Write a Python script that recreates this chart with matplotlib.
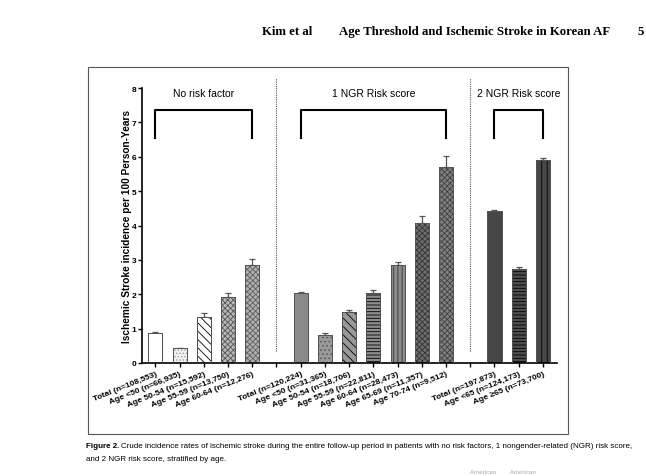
import matplotlib
matplotlib.use("Agg")
from matplotlib import pyplot as plt
from matplotlib.patches import Rectangle

plt.rcParams['font.family'] = ['Liberation Sans', 'DejaVu Sans']
plt.rcParams['hatch.linewidth'] = 0.6

# group titles
groups = ['No risk factor', '1 NGR Risk score', '2 NGR Risk score']

# no risk factor
labels_none = ['Total (n=108,553)', 'Age <50 (n=66,935)', 'Age 50-54 (n=15,592)',
               'Age 55-59 (n=13,750)', 'Age 60-64 (n=12,276)']
rate_none = [0.88, 0.43, 1.35, 1.93, 2.86]
err_none = [0.02, 0.02, 0.10, 0.12, 0.16]

# 1 NGR risk score
labels_one = ['Total (n=120,224)', 'Age <50 (n=31,365)', 'Age 50-54 (n=18,706)',
              'Age 55-59 (n=22,811)', 'Age 60-64 (n=28,473)', 'Age 65-69 (n=11,357)',
              'Age 70-74 (n=9,512)']
rate_one = [2.04, 0.82, 1.49, 2.04, 2.85, 4.08, 5.71]
err_one = [0.03, 0.05, 0.05, 0.09, 0.08, 0.20, 0.30]

# 2 NGR risk score
labels_two = ['Total (n=197,873)', 'Age <65 (n=124,173)', 'Age \u226565 (n=73,700)']
rate_two = [4.41, 2.74, 5.90]
err_two = [0.05, 0.06, 0.07]

# fill / hatch / hatch colour for each bar
styles_none = [('white', '', '#666666'), ('#f2f2f2', '.....', '#999999'),
               ('white', '\\\\\\\\', 'black'), ('#b8b8b8', 'xxxxxx', '#555555'),
               ('#b0b0b0', 'xxxxxx', '#606060')]
styles_one = [('#8a8a8a', '', '#666666'), ('#9a9a9a', '....', '#555555'),
              ('#999999', '\\\\\\\\', 'black'), ('#8c8c8c', '-----', 'black'),
              ('#8c8c8c', '||||', '#333333'), ('#6e6e6e', 'xxxxxx', '#333333'),
              ('#808080', 'xxxxxx', '#404040')]
styles_two = [('#474747', '', '#333333'), ('#4e4e4e', '-----', 'black'),
              ('#474747', '|||', 'black')]

fig = plt.figure(figsize=(6.46, 4.77), dpi=100)
ax = fig.add_axes([142 / 646, 113 / 477, 415 / 646, 275 / 477])

all_labels = []
all_pos = []
start = 0
for name, labels, rates, errs, styles in zip(
        groups,
        [labels_none, labels_one, labels_two],
        [rate_none, rate_one, rate_two],
        [err_none, err_one, err_two],
        [styles_none, styles_one, styles_two]):
    pos = list(range(start, start + len(labels)))
    for x, r, e, (fc, h, ec) in zip(pos, rates, errs, styles):
        ax.bar(x, r, width=0.58, color=fc, hatch=h, edgecolor=ec, linewidth=0.7, zorder=2)
        ax.bar(x, r, width=0.58, fill=False, edgecolor='#555555', linewidth=0.7, zorder=3)
        ax.errorbar(x, r, yerr=[[0], [e]], fmt='none', ecolor='#555555',
                    elinewidth=0.9, capsize=2.5, capthick=0.9, zorder=1)
    # bracket + title
    ax.plot([pos[0], pos[0], pos[-1], pos[-1]], [6.55, 7.37, 7.37, 6.55],
            color='black', lw=1.5, clip_on=False)
    ax.text((pos[0] + pos[-1]) / 2, 7.85, name, ha='center', va='center', fontsize=7.5)
    all_labels += labels + ['']
    all_pos += pos + [start + len(labels)]
    if name != groups[-1]:
        ax.plot([start + len(labels)] * 2, [0.35, 8.3], color='#555555', lw=0.8,
                linestyle=(0, (1, 1)), clip_on=False)
    start += len(labels) + 1

all_labels = all_labels[:-1]
all_pos = all_pos[:-1]

ax.set_xlim(-0.55, 16.58)
ax.set_ylim(0, 8)
ax.set_yticks(range(0, 9))
ax.set_xticks(all_pos)
ax.set_xticklabels(all_labels, rotation=22, ha='right', rotation_mode='anchor',
                   fontsize=6, fontweight='bold')
for lab in ax.get_yticklabels():
    lab.set_fontweight('bold')
ax.tick_params(axis='y', labelsize=6, length=3, width=1, pad=1)
ax.tick_params(axis='x', length=3, width=1, pad=2)
ax.spines['top'].set_visible(False)
ax.spines['right'].set_visible(False)
ax.spines['left'].set_linewidth(1.2)
ax.spines['bottom'].set_linewidth(1.2)
ax.set_ylabel('Ischemic Stroke incidence per 100 Person-Years', fontsize=7.3,
              fontweight='bold')
ax.yaxis.set_label_coords(-0.024, 0.5)

# frame around the figure panel
fig.patches.append(Rectangle((88 / 646, 42 / 477), 480 / 646, 367 / 477,
                             transform=fig.transFigure, fill=False,
                             edgecolor='#555555', linewidth=0.8))

# page header
hdr = dict(family='Liberation Serif', fontweight='bold', fontsize=9.2, va='center')
fig.text(262 / 646, 1 - 32 / 477, 'Kim et al', **hdr)
fig.text(339 / 646, 1 - 32 / 477, 'Age Threshold and Ischemic Stroke in Korean AF', **hdr)
fig.text(638 / 646, 1 - 32 / 477, '5', **hdr)

# caption
fs = 5.8
head = fig.text(86 / 646, 1 - 447 / 477, 'Figure 2.', fontsize=fs, fontweight='bold',
                va='center')
fig.canvas.draw()
bb = head.get_window_extent().transformed(fig.transFigure.inverted())
fig.text(bb.x1 + 2 / 646, 1 - 447 / 477,
         'Crude incidence rates of ischemic stroke during the entire follow-up period in patients '
         'with no risk factors, 1 nongender-related (NGR) risk score,',
         fontsize=fs, va='center')
fig.text(86 / 646, 1 - 460 / 477, 'and 2 NGR risk score, stratified by age.',
         fontsize=fs, va='center')
fig.text(470 / 646, 1 - 473 / 477, 'American        American', fontsize=4.5,
         color='#aaaaaa', va='center')

fig.savefig('out.png', dpi=100)
